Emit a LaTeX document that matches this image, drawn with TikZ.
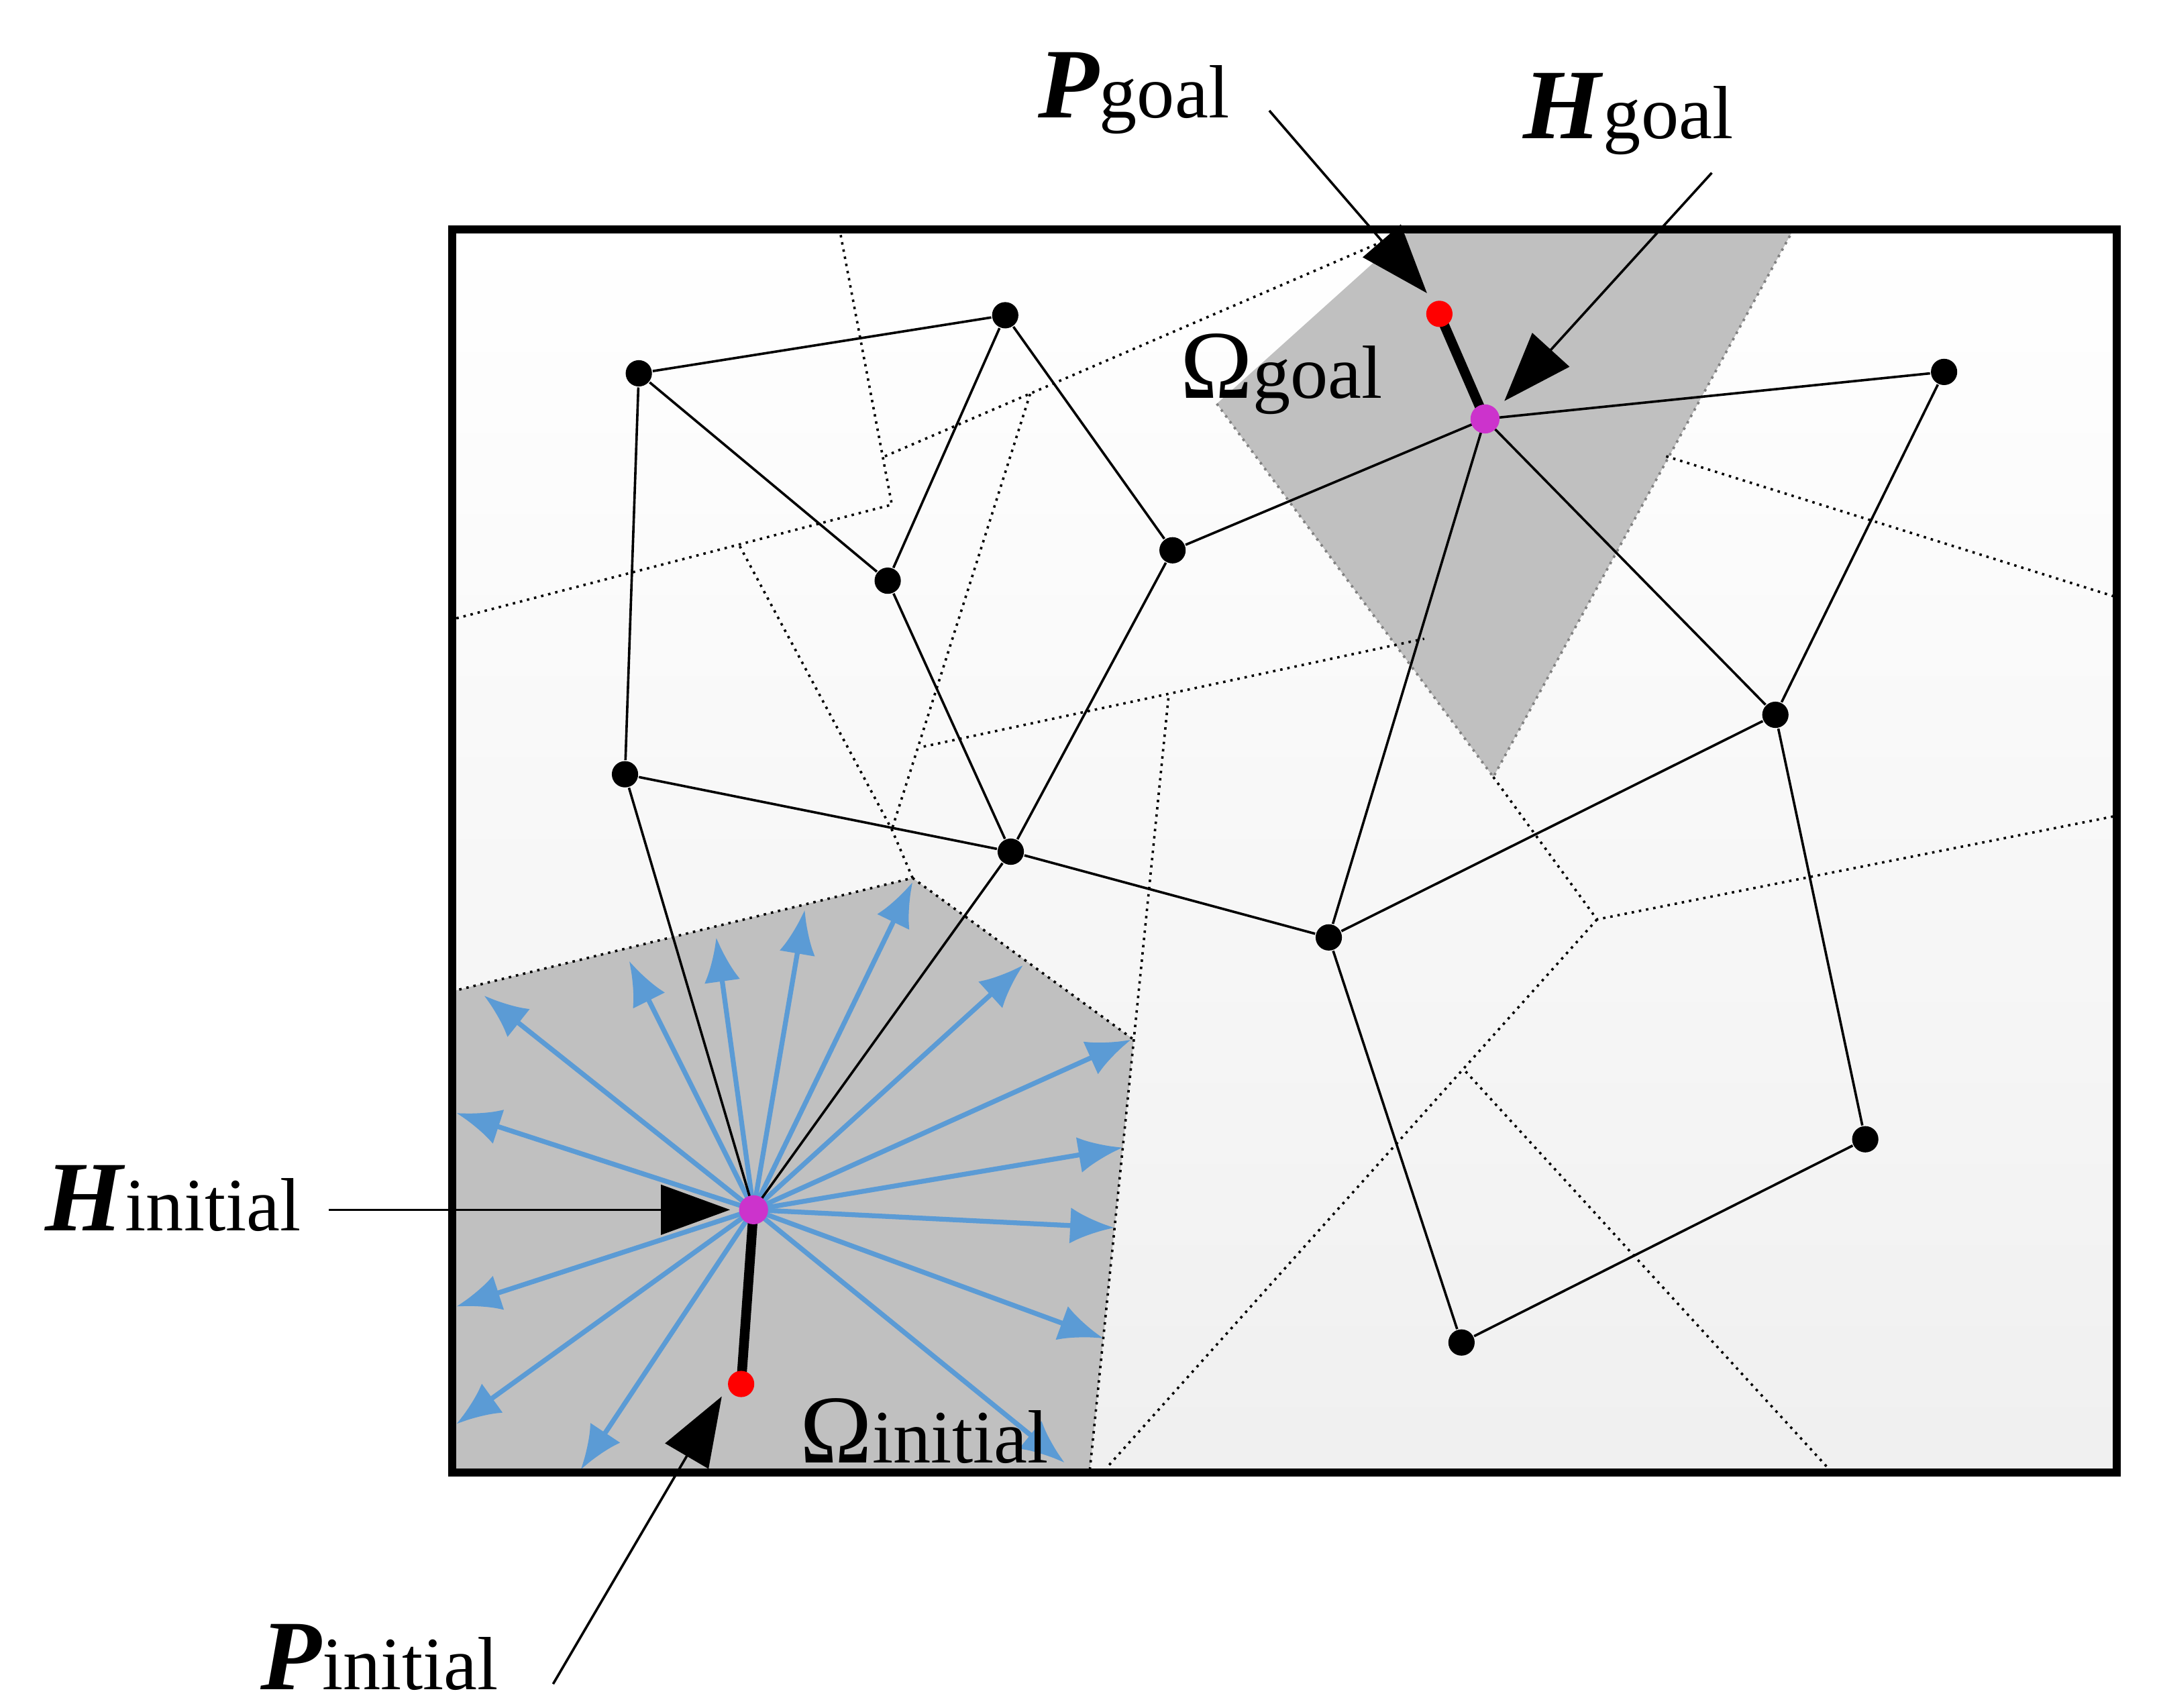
\documentclass[tikz,border=0pt]{standalone}
\usepackage{fontspec}
\setmainfont{Liberation Serif}
\usetikzlibrary{arrows.meta}
\definecolor{reg}{RGB}{192,192,192}
\definecolor{arr}{RGB}{91,155,213}
\definecolor{mag}{RGB}{204,51,204}
\begin{document}
\begin{tikzpicture}[x=0.01cm,y=-0.01cm,
  dot/.style={circle,fill=black,inner sep=0pt,minimum size=0.19cm},
  mdot/.style={circle,fill=mag,inner sep=0pt,minimum size=0.21cm},
  rdot/.style={circle,fill=red,inner sep=0pt,minimum size=0.19cm},
  edge/.style={line width=0.5pt},
  vor/.style={densely dotted,line width=0.5pt},
  ray/.style={arr,line width=1pt,-{Latex[length=0.32cm,width=0.26cm]}},
  big/.style={line width=0.5pt,-{Triangle[length=0.5cm,width=0.36cm]}},
  lab/.style={font=\fontsize{20.5}{20}\selectfont\bfseries\itshape,inner sep=0pt},
  om/.style={font=\fontsize{20}{20}\selectfont,inner sep=0pt}]
\useasboundingbox (0,0) rectangle (1560,1235);
\shade[top color=white,bottom color=black!6] (327,166) rectangle (1531,1065);
% regions
\fill[reg] (1020,166) -- (1297,166) -- (1080,562) -- (880,292) -- cycle;
\draw[vor,gray] (880,292) -- (1080,562) -- (1297,166);
\fill[reg] (327,717) -- (660,635) -- (820,752) -- (788,1065) -- (327,1065) -- cycle;
% voronoi lines
\draw[vor] (608,170) -- (645,365) -- (327,448);
\draw[vor] (640,330) -- (1020,166);
\draw[vor] (535,395) -- (645,600) -- (660,635);
\draw[vor] (745,285) -- (645,600);
\draw[vor] (668,540) -- (1030,462);
\draw[vor] (845,505) -- (820,752) -- (788,1065);
\draw[vor] (327,717) -- (660,635) -- (820,752);
\draw[vor] (1080,562) -- (1155,665) -- (1531,590);
\draw[vor] (1155,665) -- (800,1062);
\draw[vor] (1060,775) -- (1325,1065);
\draw[vor] (1205,330) -- (1531,432);
% nodes
\node[dot] (a) at (462,270) {};
\node[dot] (b) at (727,228) {};
\node[dot] (c) at (642,420) {};
\node[dot] (d) at (848,398) {};
\node[dot] (e) at (452,560) {};
\node[dot] (f) at (731,616) {};
\node[dot] (g) at (961,678) {};
\node[dot] (h) at (1284,517) {};
\node[dot] (i) at (1406,269) {};
\node[dot] (j) at (1349,824) {};
\node[dot] (k) at (1057,971) {};
\coordinate (Hg) at (1074,303);
\coordinate (Hi) at (545,875);
\coordinate (Pg) at (1041,227);
\coordinate (Pi) at (536,1001);
% rays
\foreach \px/\py [count=\n] in {350/720,330/805,330/945,330/1030,420/1063,455/695,518/678,582/658,660/638,740/698,818/752,812/830,806/888,798/968,770/1058}
  \coordinate (r\n) at (\px,\py);
\foreach \n in {1,...,15} \draw[ray] (Hi) -- (r\n);
% edges
\draw[edge] (a)--(b) (a)--(c) (b)--(c) (b)--(d) (c)--(f) (a)--(e) (e)--(f) (e)--(Hi) (f)--(Hi) (d)--(f) (d)--(Hg) (Hg)--(i) (Hg)--(g) (Hg)--(h) (i)--(h) (h)--(g) (f)--(g) (g)--(k) (k)--(j) (j)--(h);
\draw[line width=2pt] (Hg)--(Pg) (Hi)--(Pi);
\node[mdot] (HG) at (Hg) {};
\node[mdot] (HI) at (Hi) {};
\node[rdot] (PG) at (Pg) {};
\node[rdot] (PI) at (Pi) {};
\draw[line width=1.6pt] (327,166) rectangle (1531,1065);
% labels
\node[lab,anchor=base west] (lPg) at (750,85) {P\textnormal{\fontsize{15.5}{15}\selectfont goal}};
\node[lab,anchor=base west] (lHg) at (1101,100) {H\textnormal{\fontsize{15.5}{15}\selectfont goal}};
\node[lab,anchor=base west] (lHi) at (32,890) {H\textnormal{\fontsize{15.5}{15}\selectfont initial}};
\node[lab,anchor=base west] (lPi) at (188,1222) {P\textnormal{\fontsize{15.5}{15}\selectfont initial}};
\node[om,anchor=base west] (og) at (853,288) {Ω\fontsize{15.5}{15}\selectfont goal};
\node[om,anchor=base west] (oi) at (578,1058) {Ω\fontsize{15.5}{15}\selectfont initial};
\coordinate (s1) at (918,80);
\coordinate (s2) at (1238,125);
\coordinate (s3) at (238,875);
\coordinate (s4) at (400,1218);
\draw[big] (s1) -- (1032,212);
\draw[big] (s2) -- (1088,290);
\draw[big] (s3) -- (528,875);
\draw[big] (s4) -- (522,1010);
\end{tikzpicture}
\end{document}
